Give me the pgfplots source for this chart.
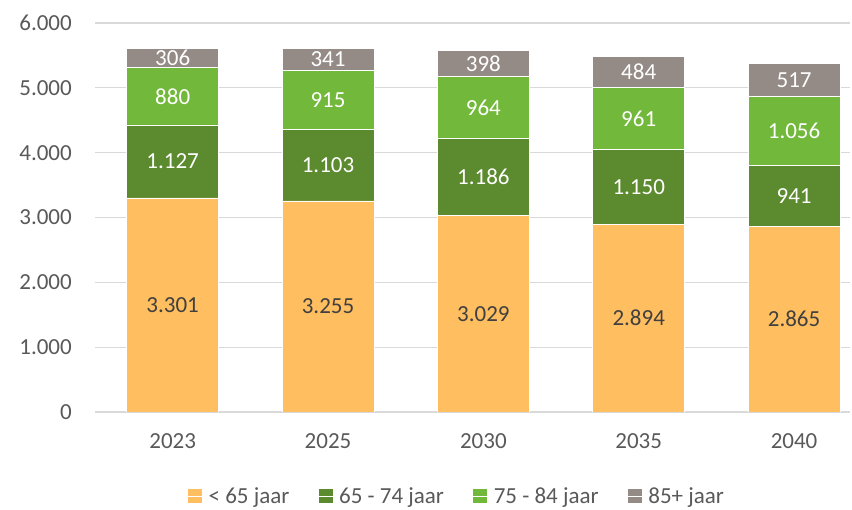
\documentclass[border=0pt]{standalone}
\usepackage{pgfplots}
\pgfplotsset{compat=1.18}
\usepackage{fontspec}
\setmainfont{Carlito}
\definecolor{txt}{HTML}{595959}
\definecolor{lbl}{HTML}{404040}
\definecolor{cA}{HTML}{FFBE5F}
\definecolor{cB}{HTML}{5C8A2E}
\definecolor{cC}{HTML}{72B83A}
\definecolor{cD}{HTML}{958B86}
\definecolor{gridc}{HTML}{D9D9D9}
\begin{document}
\begin{tikzpicture}[x=1pt,y=1pt]
\useasboundingbox (0,0) rectangle (852,510);
\begin{axis}[
  at={(95pt,98pt)}, anchor=south west,
  scale only axis, width=755pt, height=389pt,
  ybar stacked, bar width=92pt,
  xmin=-0.5, xmax=4.36, ymin=0, ymax=6000,
  xtick=data, xticklabels={2023,2025,2030,2035,2040},
  ytick={0,1000,2000,3000,4000,5000,6000},
  font=\fontsize{23}{28}\selectfont,
  /pgf/number format/.cd, use comma, 1000 sep={.}, assume math mode=true,
  /pgfplots/.cd,
  axis x line*=bottom, axis y line*=left,
  y axis line style={draw=none},
  x axis line style={draw=gridc, line width=1.3pt},
  major tick length=0pt, tick style={draw=none},
  ymajorgrids, grid style={draw=gridc, line width=1.3pt},
  ticklabel style={text=txt},
  yticklabel style={anchor=east, inner sep=0pt, xshift=-23pt},
  xticklabel style={anchor=center, inner sep=0pt, yshift=-29pt},
  nodes near coords,
  every node near coord/.append style={anchor=center, inner sep=0pt},
  legend columns=4,
  legend style={at={(0.478,-0.216)}, anchor=center, draw=none, fill=none,
    text=txt, nodes={inner sep=0pt},
    /tikz/every even column/.append style={column sep=29pt},
    font=\fontsize{23}{28}\selectfont},
  legend image code/.code={\fill[#1,draw=none] (0pt,-7pt) rectangle (14pt,7pt); \path (0pt,0pt) -- (20pt,0pt);},
]
\addplot[fill=cA, draw=white, line width=0.8pt, every node near coord/.append style={text=lbl}]
  coordinates {(0,3301) (1,3255) (2,3029) (3,2894) (4,2865)};
\addplot[fill=cB, draw=white, line width=0.8pt, every node near coord/.append style={text=white}]
  coordinates {(0,1127) (1,1103) (2,1186) (3,1150) (4,941)};
\addplot[fill=cC, draw=white, line width=0.8pt, every node near coord/.append style={text=white}]
  coordinates {(0,880) (1,915) (2,964) (3,961) (4,1056)};
\addplot[fill=cD, draw=white, line width=0.8pt, every node near coord/.append style={text=white}]
  coordinates {(0,306) (1,341) (2,398) (3,484) (4,517)};
\legend{< 65 jaar, 65 - 74 jaar, 75 - 84 jaar, 85+ jaar}
\end{axis}
\end{tikzpicture}
\end{document}
